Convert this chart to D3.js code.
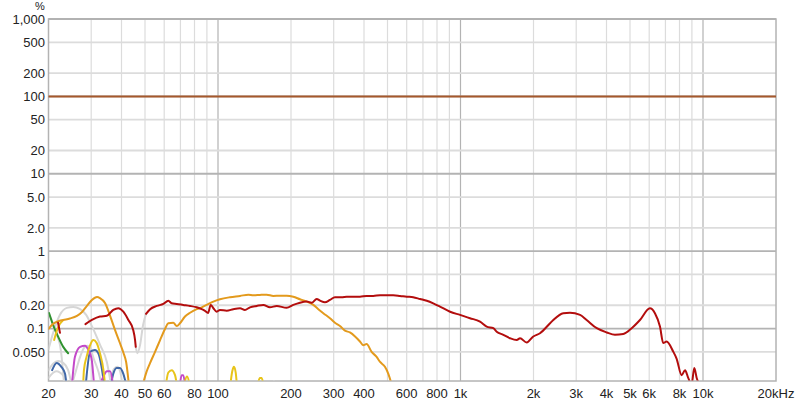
<!DOCTYPE html>
<html>
<head>
<meta charset="utf-8">
<script src="https://cdn.jsdelivr.net/npm/d3@7"></script>
<style>
  body { margin: 0; background: #fff; }
  svg { display: block; font-family: 'Liberation Sans', Arial, sans-serif; }
</style>
</head>
<body>
<div id="chart"></div>
<script>
// x ticks (Hz) and y ticks (%)
const xLabelTicks = [20, 30, 40, 50, 60, 80, 100, 200, 300, 400, 600, 800, 1000, 2000, 3000, 4000, 5000, 6000, 8000, 10000, 20000];
const xLabelText = ['20', '30', '40', '50', '60', '80', '100', '200', '300', '400', '600', '800', '1k', '2k', '3k', '4k', '5k', '6k', '8k', '10k', '20kHz'];
const yTicks = [1000, 500, 200, 100, 50, 20, 10, 5, 2, 1, 0.5, 0.2, 0.1, 0.05];
const yTickText = ['1,000', '500', '200', '100', '50', '20', '10', '5.0', '2.0', '1', '0.50', '0.20', '0.1', '0.050'];

// fundamental reference level
const fundamental = [[20, 100], [20000, 100]];

// total distortion (red), [Hz, %]
const thd = [
  [[21.9, 0.119], [22.3, 0.088]],
  [[28.4, 0.114], [30.2, 0.129], [32.6, 0.143], [34.8, 0.146], [37.0, 0.174], [38.8, 0.183],
   [40.7, 0.165], [42.7, 0.129], [44.7, 0.096], [45.5, 0.071], [45.8, 0.058]],
  [[50.5, 0.155], [52.5, 0.178], [55.9, 0.196], [59.5, 0.208], [62.4, 0.229], [64.4, 0.212],
   [67.6, 0.208], [71.9, 0.202], [76.7, 0.196], [81.7, 0.188], [85.7, 0.178], [88.4, 0.169],
   [91.0, 0.159], [93.3, 0.202], [95.7, 0.183], [98.8, 0.165], [101.9, 0.174], [108.6, 0.170],
   [115.6, 0.178], [123.3, 0.183], [129.1, 0.174], [135.5, 0.188], [144.4, 0.196], [153.8, 0.202],
   [163.7, 0.188], [174.6, 0.196], [191.9, 0.185], [204.4, 0.202], [217.8, 0.216], [232.3, 0.223],
   [243.4, 0.216], [255.3, 0.241], [263.6, 0.229], [276, 0.218], [289.6, 0.234], [303.6, 0.254],
   [323.6, 0.254], [339.6, 0.258], [361, 0.258], [385, 0.258], [410, 0.264], [437, 0.264],
   [466, 0.269], [496, 0.269], [528, 0.269], [563, 0.264], [600, 0.258], [638, 0.254],
   [681, 0.241], [726, 0.229], [772, 0.212], [823, 0.192], [906, 0.165], [996, 0.150],
   [1094, 0.136], [1204, 0.123], [1282, 0.106], [1366, 0.101], [1410, 0.091], [1502, 0.083],
   [1600, 0.075], [1706, 0.071], [1760, 0.075], [1875, 0.066], [1996, 0.079], [2128, 0.087],
   [2340, 0.117], [2414, 0.129], [2654, 0.158], [2828, 0.160], [3112, 0.150], [3312, 0.129],
   [3648, 0.101], [4008, 0.089], [4336, 0.083], [4688, 0.085], [5080, 0.101], [5496, 0.129],
   [6040, 0.183], [6336, 0.158], [6646, 0.106], [6856, 0.065], [7080, 0.068], [7546, 0.050],
   [7780, 0.041], [8166, 0.025], [8434, 0.029], [8690, 0.023], [8974, 0.019], [9206, 0.031],
   [9418, 0.023], [9660, 0.019]]
];

// second harmonic (orange)
const h2 = [
  [[20, 0.099], [20.9, 0.115], [21.9, 0.124], [23.0, 0.129], [24.5, 0.135], [26.2, 0.146],
   [27.5, 0.164], [28.8, 0.196], [30.2, 0.234], [31.7, 0.256], [32.6, 0.248], [34.2, 0.214],
   [35.9, 0.146], [37.6, 0.096], [39.4, 0.065], [40.8, 0.048], [41.8, 0.037], [42.9, 0.019]],
  [[49.0, 0.019], [50.8, 0.028], [52.5, 0.036], [55.0, 0.050], [57.7, 0.071], [60.4, 0.098],
   [62.4, 0.117], [65.4, 0.119], [67.6, 0.108], [69.7, 0.117], [73.1, 0.143], [76.7, 0.160],
   [81.7, 0.178], [85.7, 0.188], [89.8, 0.202], [95.7, 0.223], [101.9, 0.239], [112.1, 0.254],
   [123.3, 0.264], [133.4, 0.274], [139.8, 0.269], [148.9, 0.272], [158.8, 0.274], [169, 0.264],
   [180.2, 0.266], [191.9, 0.266], [204.4, 0.258], [217.8, 0.239], [232.3, 0.223], [247.2, 0.202],
   [259.3, 0.178], [271.8, 0.158], [289.6, 0.136], [303.6, 0.119], [318.4, 0.108], [334, 0.094],
   [350, 0.089], [367.4, 0.079], [385, 0.068], [397, 0.061], [410, 0.063], [430, 0.050],
   [451, 0.043], [466, 0.037], [488, 0.032], [504, 0.026], [520, 0.019]]
];

// third harmonic (yellow)
const h3 = [
  [[21.1, 0.071], [21.7, 0.096], [22.3, 0.115], [23.0, 0.129]],
  [[27.8, 0.019], [28.0, 0.029], [28.7, 0.043], [29.7, 0.061], [30.6, 0.071], [31.6, 0.065],
   [32.6, 0.048], [33.7, 0.029], [34.2, 0.019]],
  [[61.0, 0.019], [62.4, 0.027], [64.4, 0.029], [66.5, 0.025], [67.6, 0.019]],
  [[72.5, 0.019], [74.5, 0.024], [76.4, 0.019]],
  [[112.5, 0.019], [114.5, 0.028], [116.4, 0.032], [118.3, 0.027], [119.6, 0.019]],
  [[145.9, 0.019], [148.8, 0.023], [151.3, 0.023], [153.9, 0.019]]
];

// fourth harmonic (green)
const h4 = [
  [[20.1, 0.159], [20.9, 0.111], [21.9, 0.079], [23.0, 0.058], [24.1, 0.048]]
];

// fifth harmonic (magenta)
const h5 = [
  [[25.0, 0.019], [25.7, 0.043], [27.0, 0.058], [28.3, 0.060], [29.2, 0.053], [30.1, 0.041], [30.8, 0.019]],
  [[32.6, 0.019], [33.7, 0.024], [34.8, 0.028], [35.9, 0.028], [36.9, 0.019]],
  [[69.7, 0.019], [70.8, 0.025], [71.9, 0.025], [73.1, 0.019]]
];

// sixth harmonic (blue)
const h6 = [
  [[20.7, 0.029], [21.6, 0.036], [22.6, 0.032], [23.4, 0.026], [23.7, 0.019]],
  [[28.5, 0.019], [29.7, 0.050], [31.1, 0.053], [32.1, 0.048], [33.1, 0.032], [33.9, 0.019]],
  [[36.2, 0.019], [37.0, 0.026], [38.2, 0.031], [39.4, 0.031], [40.7, 0.026], [41.8, 0.019]]
];

// higher harmonics / below noise (grey)
const hOther = [
  [[20, 0.054], [20.9, 0.088], [22.3, 0.151], [23.8, 0.185], [25.3, 0.190], [26.9, 0.180],
   [28.6, 0.150], [30.3, 0.105], [32.6, 0.062], [34.8, 0.037], [36.2, 0.019]],
  [[20, 0.159], [20.7, 0.125], [21.6, 0.085], [22.5, 0.052], [23.2, 0.019]],
  [[20, 0.029], [20.9, 0.035], [21.9, 0.038], [23.0, 0.036], [24.1, 0.029], [24.9, 0.019]],
  [[20, 0.023], [21.5, 0.028], [23.2, 0.024], [24.3, 0.019]],
  [[25.0, 0.019], [26.0, 0.029], [27.0, 0.043], [28.1, 0.057], [28.9, 0.060], [29.6, 0.057],
   [30.8, 0.040], [32.1, 0.028], [33.1, 0.019]],
  [[35.6, 0.019], [37.2, 0.030], [38.4, 0.032], [39.5, 0.028], [40.3, 0.019]],
  [[45.8, 0.058], [46.5, 0.048], [47.7, 0.061], [49.1, 0.111], [50.5, 0.155]],
  [[167.7, 0.019], [170.2, 0.021], [172.9, 0.019]]
];

const colors = {
  fundamental: '#a5582c',
  thd: '#b30d0d',
  h2: '#e39a1d',
  h3: '#e8c41a',
  h4: '#2f922f',
  h5: '#c349c9',
  h6: '#3f67a8',
  other: '#d6d6d6'
};

const width = 800;
const height = 406;
const plot = { left: 48.5, right: 776, top: 19, bottom: 381 };

const x = d3.scaleLog().domain([20, 20000]).range([plot.left, plot.right]);
const y = d3.scaleLog().domain([0.021, 1000]).range([plot.bottom, plot.top]);

const svg = d3.select('#chart').append('svg')
  .attr('width', width)
  .attr('height', height);

// vertical grid: every 1..9 per decade
const xGrid = [];
[10, 100, 1000, 10000].forEach(dec => {
  for (let m = 1; m < 10; m++) {
    const f = dec * m;
    if (f > 20 && f < 20000) xGrid.push(f);
  }
});
const isDecade = v => Math.abs(Math.log10(v) - Math.round(Math.log10(v))) < 1e-9;

svg.append('g')
  .selectAll('line')
  .data(xGrid)
  .join('line')
  .attr('x1', d => x(d)).attr('x2', d => x(d))
  .attr('y1', plot.top).attr('y2', plot.bottom)
  .attr('stroke', d => isDecade(d) ? '#b3b3b3' : '#dcdcdc')
  .attr('stroke-width', 1.2);

svg.append('g')
  .selectAll('line')
  .data(yTicks)
  .join('line')
  .attr('x1', plot.left).attr('x2', plot.right)
  .attr('y1', d => y(d)).attr('y2', d => y(d))
  .attr('stroke', d => isDecade(d) ? '#b3b3b3' : '#dcdcdc')
  .attr('stroke-width', 1.8);

// frame
svg.append('rect')
  .attr('x', plot.left).attr('y', plot.top)
  .attr('width', plot.right - plot.left)
  .attr('height', plot.bottom - plot.top)
  .attr('fill', 'none')
  .attr('stroke', '#b3b3b3')
  .attr('stroke-width', 1.5);

// y labels
svg.append('g')
  .selectAll('text')
  .data(yTicks)
  .join('text')
  .attr('x', 45)
  .attr('y', d => y(d))
  .attr('dy', '0.36em')
  .attr('text-anchor', 'end')
  .style('font-size', '13px')
  .style('fill', '#222')
  .text((d, i) => yTickText[i]);

svg.append('text')
  .attr('x', 40).attr('y', 9.5)
  .attr('text-anchor', 'middle')
  .style('font-size', '11px')
  .style('fill', '#222')
  .text('%');

// x labels
svg.append('g')
  .selectAll('text')
  .data(xLabelTicks)
  .join('text')
  .attr('x', d => x(d))
  .attr('y', 398)
  .attr('text-anchor', 'middle')
  .style('font-size', '13px')
  .style('fill', '#222')
  .text((d, i) => xLabelText[i]);

// traces
svg.append('clipPath').attr('id', 'plot-clip')
  .append('rect')
  .attr('x', plot.left).attr('y', plot.top)
  .attr('width', plot.right - plot.left)
  .attr('height', plot.bottom - plot.top - 0.5);

const traces = svg.append('g').attr('clip-path', 'url(#plot-clip)');

const line = d3.line()
  .x(d => x(d[0]))
  .y(d => y(d[1]))
  .curve(d3.curveMonotoneX);

function drawSeries(segments, color, w) {
  traces.append('g')
    .selectAll('path')
    .data(segments)
    .join('path')
    .attr('d', line)
    .attr('fill', 'none')
    .attr('stroke', color)
    .attr('stroke-width', w)
    .attr('stroke-linejoin', 'round')
    .attr('stroke-linecap', 'round');
}

drawSeries(hOther, colors.other, 2);
drawSeries(h6, colors.h6, 2);
drawSeries(h5, colors.h5, 2);
drawSeries(h4, colors.h4, 2);
drawSeries(h3, colors.h3, 2);
drawSeries(h2, colors.h2, 2);
drawSeries(thd, colors.thd, 2);
drawSeries([fundamental], colors.fundamental, 2);
</script>
</body>
</html>
